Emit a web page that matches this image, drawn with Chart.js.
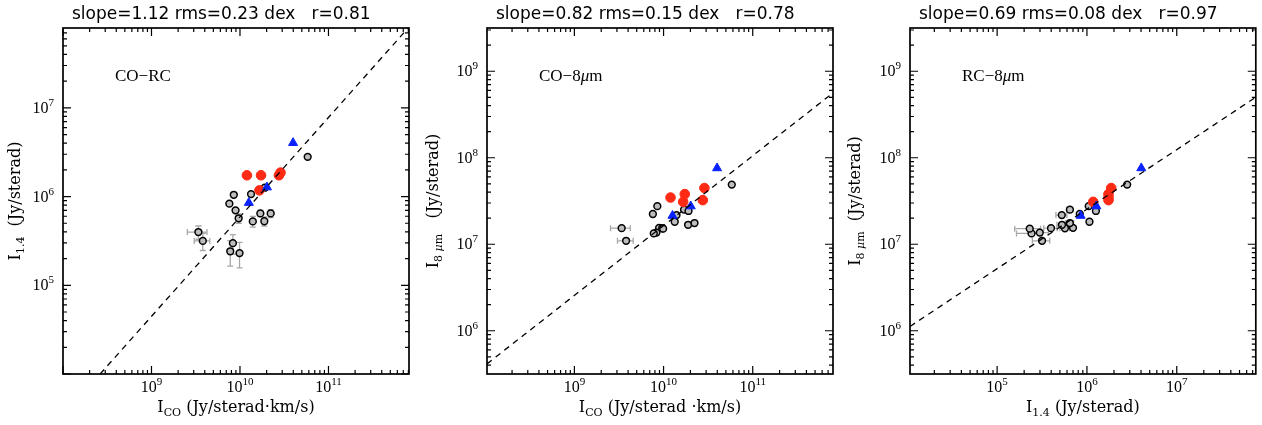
<!DOCTYPE html>
<html>
<head>
<meta charset="utf-8">
<script src="https://cdn.jsdelivr.net/npm/chart.js@4.4.1/dist/chart.umd.min.js"></script>
<style>
  body { margin: 0; background: #fff; }
  #wrap { position: relative; width: 1262px; height: 425px; }
  #wrap canvas { position: absolute; left: 0; top: 0; }
</style>
</head>
<body>
<div id="wrap">
  <canvas id="c1" width="1262" height="425"></canvas>
  <canvas id="c2" width="1262" height="425"></canvas>
  <canvas id="c3" width="1262" height="425"></canvas>
</div>
<script>
// log10 of the intensities, one entry per region (same order in each array)
const grayCO  = [9.53, 9.58, 9.88, 9.93, 9.95, 9.985, 9.92, 9.89, 9.995, 10.125, 10.145, 10.23, 10.275, 10.347, 10.765, 10.28];
const grayRC  = [5.60, 5.50, 5.92, 6.02, 5.845, 5.755, 5.475, 5.383, 5.363, 6.028, 5.72, 5.81, 5.722, 5.81, 6.448, 6.10];
const gray8um = [7.186, 7.04, 7.35, 7.44, 7.19, 7.185, 7.135, 7.125, 7.18, 7.26, 7.337, 7.40, 7.225, 7.245, 7.69, 7.385];
// fractional errors (sigma / value)
const grayCOErr = [0.25, 0.2, 0, 0, 0, 0, 0, 0, 0, 0, 0, 0, 0, 0, 0, 0];
const grayRCErr = [0.17, 0.22, 0, 0, 0, 0.12, 0.25, 0.32, 0.32, 0, 0.14, 0.08, 0.12, 0.10, 0, 0];

const redCO  = [10.078, 10.238, 10.22, 10.44, 10.458];
const redRC  = [6.24, 6.24, 6.07, 6.24, 6.27];
const red8um = [7.54, 7.58, 7.49, 7.51, 7.65];

const blueCO  = [10.10, 10.305, 10.60];
const blueRC  = [5.93, 6.105, 6.605];
const blue8um = [7.33, 7.44, 7.88];

// fitted lines (log10 endpoints)
const fitCoRcX = [8.42, 11.9],  fitCoRcY = [4.0, 7.9];
const fitCo8X  = [8.02, 11.9],  fitCo8Y  = [5.617, 8.75];
const fitRc8X  = [4.03, 7.88],  fitRc8Y  = [6.05, 8.70];

// axis ranges (log10) and labelled decades
const coRange = [8.0, 11.91], rcRange1 = [4.0, 7.9];
const coRange2 = [8.02, 11.9], irRange = [5.5, 9.5];
const rcRange3 = [4.03, 7.88];
const coTicks = [9, 10, 11], rcTicks1 = [5, 6, 7], irTicks = [6, 7, 8, 9], rcTicks3 = [5, 6, 7];

const titles = ['slope=1.12 rms=0.23 dex   r=0.81', 'slope=0.82 rms=0.15 dex   r=0.78', 'slope=0.69 rms=0.08 dex   r=0.97'];

const SERIF = '"Liberation Serif", "DejaVu Serif", serif';
const DSERIF = '"DejaVu Serif", serif';
const SANS = '"DejaVu Sans", sans-serif';

function pts(xs, ys) { return xs.map((v, i) => ({ x: Math.pow(10, v), y: Math.pow(10, ys[i]) })); }

// draw a run of text pieces: {t, size, dy, italic, family}
function drawParts(ctx, parts, x, y, align) {
  let total = 0;
  parts.forEach(p => {
    ctx.font = (p.italic ? 'italic ' : '') + p.size + 'px ' + (p.family || SERIF);
    p.w = ctx.measureText(p.t).width;
    total += p.w;
  });
  let cx = align === 'center' ? x - total / 2 : (align === 'right' ? x - total : x);
  ctx.textAlign = 'left';
  ctx.textBaseline = 'alphabetic';
  parts.forEach(p => {
    ctx.font = (p.italic ? 'italic ' : '') + p.size + 'px ' + (p.family || SERIF);
    ctx.fillText(p.t, cx, y + (p.dy || 0));
    cx += p.w;
  });
}

function decor(spec) {
  return {
    id: 'decor' + spec.n,
    beforeDatasetsDraw(chart) {
      const ctx = chart.ctx, xs = chart.scales.x, ys = chart.scales.y;
      const a = chart.chartArea;
      ctx.save();
      ctx.beginPath();
      ctx.rect(a.left, a.top, a.right - a.left, a.bottom - a.top);
      ctx.clip();
      ctx.strokeStyle = '#a8a8a8';
      ctx.lineWidth = 1.3;
      spec.gx.forEach((gx, i) => {
        const x = Math.pow(10, gx), y = Math.pow(10, spec.gy[i]);
        const px = xs.getPixelForValue(x), py = ys.getPixelForValue(y);
        const ex = spec.ex[i], ey = spec.ey[i];
        if (ex > 0) {
          const l = xs.getPixelForValue(x * (1 - ex)), r = xs.getPixelForValue(x * (1 + ex));
          ctx.beginPath();
          ctx.moveTo(l, py); ctx.lineTo(r, py);
          ctx.moveTo(l, py - 3); ctx.lineTo(l, py + 3);
          ctx.moveTo(r, py - 3); ctx.lineTo(r, py + 3);
          ctx.stroke();
        }
        if (ey > 0) {
          const b = ys.getPixelForValue(y * (1 - ey)), t = ys.getPixelForValue(y * (1 + ey));
          ctx.beginPath();
          ctx.moveTo(px, b); ctx.lineTo(px, t);
          ctx.moveTo(px - 3, b); ctx.lineTo(px + 3, b);
          ctx.moveTo(px - 3, t); ctx.lineTo(px + 3, t);
          ctx.stroke();
        }
      });
      ctx.restore();
    },
    afterDraw(chart) {
      const ctx = chart.ctx, xs = chart.scales.x, ys = chart.scales.y;
      const a = chart.chartArea;
      ctx.save();
      ctx.fillStyle = '#000';
      ctx.strokeStyle = '#000';
      // ticks on all four sides, pointing in
      ctx.lineWidth = 1.2;
      ctx.beginPath();
      for (let e = Math.floor(spec.xr[0]); e <= Math.ceil(spec.xr[1]); e++) {
        for (let k = 1; k <= 9; k++) {
          const v = k * Math.pow(10, e);
          if (v < Math.pow(10, spec.xr[0]) || v > Math.pow(10, spec.xr[1])) continue;
          const p = xs.getPixelForValue(v), len = k === 1 ? 8 : 4;
          ctx.moveTo(p, a.bottom); ctx.lineTo(p, a.bottom - len);
          ctx.moveTo(p, a.top); ctx.lineTo(p, a.top + len);
        }
      }
      for (let e = Math.floor(spec.yr[0]); e <= Math.ceil(spec.yr[1]); e++) {
        for (let k = 1; k <= 9; k++) {
          const v = k * Math.pow(10, e);
          if (v < Math.pow(10, spec.yr[0]) || v > Math.pow(10, spec.yr[1])) continue;
          const p = ys.getPixelForValue(v), len = k === 1 ? 8 : 4;
          ctx.moveTo(a.left, p); ctx.lineTo(a.left + len, p);
          ctx.moveTo(a.right, p); ctx.lineTo(a.right - len, p);
        }
      }
      ctx.stroke();
      // frame
      ctx.lineWidth = 1.7;
      ctx.strokeRect(a.left, a.top, a.right - a.left, a.bottom - a.top);

      // tick labels
      spec.xt.forEach(e => {
        const p = xs.getPixelForValue(Math.pow(10, e));
        drawParts(ctx, [{ t: '10', size: 16 }, { t: String(e), size: 11, dy: -7 }], p, a.bottom + 18, 'center');
      });
      spec.yt.forEach(e => {
        const p = ys.getPixelForValue(Math.pow(10, e));
        drawParts(ctx, [{ t: '10', size: 16 }, { t: String(e), size: 11, dy: -7 }], a.left - 9, p + 5, 'right');
      });

      // axis titles
      const cx = (a.left + a.right) / 2, cy = (a.top + a.bottom) / 2;
      drawParts(ctx, spec.xlabel, cx, a.bottom + 38, 'center');
      ctx.save();
      ctx.translate(a.left - spec.ylabelOff, cy);
      ctx.rotate(-Math.PI / 2);
      drawParts(ctx, spec.ylabel, 0, 5, 'center');
      ctx.restore();

      // title over the panel
      drawParts(ctx, [{ t: spec.title, size: 17, family: SANS }], a.left + 9, 19, 'left');
      // label inside the panel
      drawParts(ctx, spec.tag, a.left + 52, 81, 'left');
      ctx.restore();
    }
  };
}

function makePanel(spec) {
  const rect = spec.rect;
  new Chart(document.getElementById(spec.id), {
    type: 'scatter',
    data: {
      datasets: [
        { data: pts(spec.fx, spec.fy), showLine: true, borderColor: '#000', borderWidth: 1.3,
          borderDash: [6, 5], pointRadius: 0, order: 0 },
        { data: pts(spec.bx, spec.by), pointStyle: 'triangle', pointRadius: 5.2,
          backgroundColor: '#0a22ff', borderColor: '#0a22ff', borderWidth: 1, order: 1 },
        { data: pts(spec.rx, spec.ry), pointStyle: 'circle', pointRadius: 4.8,
          backgroundColor: '#ff2a14', borderColor: '#ff2a14', borderWidth: 1, order: 2 },
        { data: pts(spec.gx, spec.gy), pointStyle: 'circle', pointRadius: 3.4,
          backgroundColor: '#bdbdbd', borderColor: '#000', borderWidth: 1.5, order: 3 }
      ]
    },
    options: {
      responsive: false,
      animation: false,
      events: [],
      layout: { padding: { left: rect[0], top: rect[1], right: 1262 - rect[2], bottom: 425 - rect[3] } },
      plugins: { legend: { display: false }, tooltip: { enabled: false } },
      scales: {
        x: { type: 'logarithmic', display: false, min: Math.pow(10, spec.xr[0]), max: Math.pow(10, spec.xr[1]) },
        y: { type: 'logarithmic', display: false, min: Math.pow(10, spec.yr[0]), max: Math.pow(10, spec.yr[1]) }
      }
    },
    plugins: [decor(spec)]
  });
}

const big = (t) => ({ t: t, size: 16, family: DSERIF });
const sub = (t) => ({ t: t, size: 11, dy: 4, family: DSERIF });

makePanel({
  n: 1, id: 'c1', rect: [63, 28, 409, 374], xr: coRange, yr: rcRange1, xt: coTicks, yt: rcTicks1,
  gx: grayCO, gy: grayRC, ex: grayCOErr, ey: grayRCErr,
  rx: redCO, ry: redRC, bx: blueCO, by: blueRC, fx: fitCoRcX, fy: fitCoRcY,
  title: titles[0],
  xlabel: [big('I'), sub('CO'), big(' (Jy/sterad·km/s)')],
  ylabel: [big('I'), sub('1.4'), big('  (Jy/sterad)')], ylabelOff: 48,
  tag: [{ t: 'CO−RC', size: 17 }]
});
makePanel({
  n: 2, id: 'c2', rect: [487, 28, 833, 374], xr: coRange2, yr: irRange, xt: coTicks, yt: irTicks,
  gx: grayCO, gy: gray8um, ex: grayCOErr, ey: grayCOErr.map(() => 0),
  rx: redCO, ry: red8um, bx: blueCO, by: blue8um, fx: fitCo8X, fy: fitCo8Y,
  title: titles[1],
  xlabel: [big('I'), sub('CO'), big(' (Jy/sterad ·km/s)')],
  ylabel: [big('I'), sub('8 '), { t: 'μ', size: 11, dy: 4, italic: true, family: DSERIF }, sub('m'), big('   (Jy/sterad)')], ylabelOff: 54,
  tag: [{ t: 'CO−8', size: 17 }, { t: 'μ', size: 17, italic: true }, { t: 'm', size: 17 }]
});
makePanel({
  n: 3, id: 'c3', rect: [910, 28, 1256, 374], xr: rcRange3, yr: irRange, xt: rcTicks3, yt: irTicks,
  gx: grayRC, gy: gray8um, ex: grayRCErr, ey: grayRCErr.map(() => 0),
  rx: redRC, ry: red8um, bx: blueRC, by: blue8um, fx: fitRc8X, fy: fitRc8Y,
  title: titles[2],
  xlabel: [big('I'), sub('1.4'), big(' (Jy/sterad)')],
  ylabel: [big('I'), sub('8 '), { t: 'μ', size: 11, dy: 4, italic: true, family: DSERIF }, sub('m'), big('  (Jy/sterad)')], ylabelOff: 55,
  tag: [{ t: 'RC−8', size: 17 }, { t: 'μ', size: 17, italic: true }, { t: 'm', size: 17 }]
});
</script>
</body>
</html>
